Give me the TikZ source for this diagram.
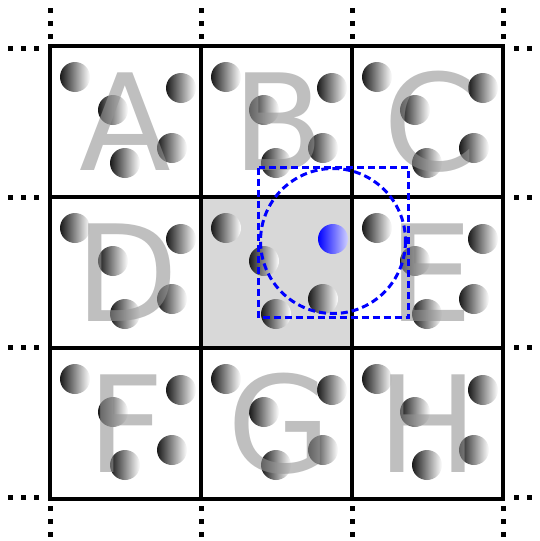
\documentclass[tikz,border=0pt]{standalone}
\usepackage{fontspec}
\newfontfamily\letterfont{DejaVu Sans}
\definecolor{lettergray}{RGB}{148,148,148}
\definecolor{cellgray}{RGB}{216,216,216}
\tikzset{
  cellbox/.style={draw=black, line width=3.4pt},
  bigletter/.style={inner sep=0pt, text=lettergray, text opacity=0.6, font=\letterfont\fontsize{134}{134}\selectfont},
  bluedash/.style={draw=blue, line width=3pt, dash pattern=on 7pt off 4pt},
  griddot/.style={fill=black, minimum size=5pt, inner sep=0pt, draw=none, shape=rectangle}
}
\begin{document}
\begin{tikzpicture}[x=1pt,y=-1pt]
\useasboundingbox (0,0) rectangle (539,541);
% center cell fill
\fill[cellgray] (201,197) rectangle (352,348);
% balls
\foreach \cx/\cy in {50/46,201/46,352/46,50/197,201/197,352/197,50/348,201/348,352/348}{
  \foreach \bx/\by in {25/31,63/64,122/102,75/117}{
    \shade[left color=black!90, right color=white] (\cx+\bx,\cy+\by) circle (15);
  }
}
\foreach \cx/\cy in {50/46,201/46,352/46,50/197,352/197,50/348,201/348,352/348}{
  \shade[left color=black!90, right color=white] (\cx+131,\cy+42) circle (15);
}
\shade[left color=blue, right color=blue!18] (333,239) circle (15);
% letters
\node[bigletter] (lA) at (125.5,121.5) {A};
\node[bigletter] (lB) at (278,121.5) {B};
\node[bigletter] (lC) at (430,121.5) {C};
\node[bigletter] (lD) at (127,272.5) {D};
\node[bigletter] (lE) at (431,272.5) {E};
\node[bigletter] (lF) at (126,423.5) {F};
\node[bigletter] (lG) at (279,423.5) {G};
\node[bigletter] (lH) at (428,423.5) {H};
% grid cells
\foreach \cx/\cy in {50/46,201/46,352/46,50/197,201/197,352/197,50/348,201/348,352/348}{
  \draw[cellbox] (\cx,\cy) rectangle ++(151,151);
}
% dots
\foreach \x in {50,201,352,503}{
  \foreach \y in {10,23,36,508,521,534}{
    \node[griddot] at (\x,\y) {};
  }
}
\foreach \y in {48,197,347,497}{
  \foreach \x in {10,23,36,516,529,542}{
    \node[griddot] at (\x,\y) {};
  }
}
% blue query region
\coordinate (q) at (333,241);
\draw[bluedash] (q) circle (72.5);
\draw[bluedash] (258.5,167.5) rectangle (408.5,317.5);
\end{tikzpicture}
\end{document}
